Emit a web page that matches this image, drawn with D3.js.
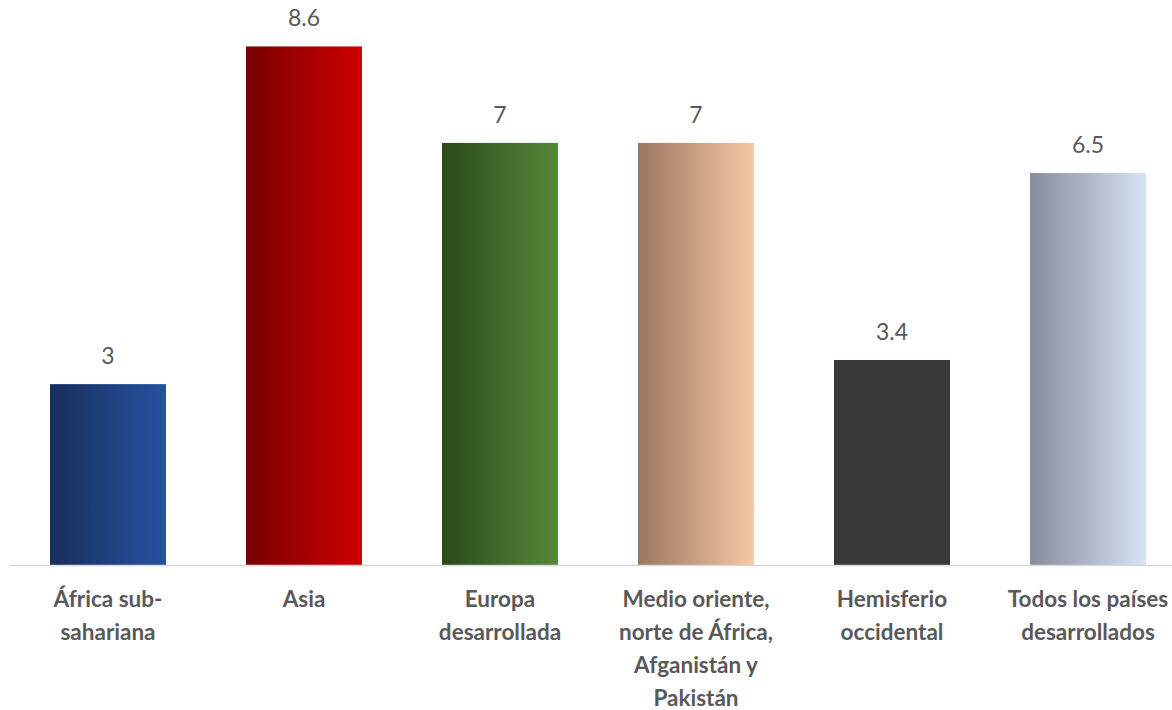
<!DOCTYPE html>
<html>
<head>
<meta charset="utf-8">
<script src="https://cdn.jsdelivr.net/npm/d3@7"></script>
<style>
  body { margin: 0; background: #fff; }
  svg { display: block; }
  .val { font-family: Lato, "Open Sans", sans-serif; font-size: 23px; fill: #595959; }
  .cat { font-family: Lato, "Open Sans", sans-serif; font-size: 22.5px; font-weight: bold; fill: #595959; }
</style>
</head>
<body>
<svg id="chart" width="1172" height="710"></svg>
<script>
// data
const categories = ['africa', 'asia', 'europa', 'medio', 'hemisferio', 'todos'];
const labelLines = [
    ['África sub-', 'sahariana'],
    ['Asia'],
    ['Europa', 'desarrollada'],
    ['Medio oriente,', 'norte de África,', 'Afganistán y', 'Pakistán'],
    ['Hemisferio', 'occidental'],
    ['Todos los países', 'desarrollados']
];
const values = [3, 8.6, 7, 7, 3.4, 6.5];
const valueLabels = ['3', '8.6', '7', '7', '3.4', '6.5'];
// gradient stops left -> right per bar
const fills = [
    ['#172e5b', '#2752a0'],
    ['#780000', '#d00000'],
    ['#2b4a1b', '#54893a'],
    ['#9a7660', '#f9c8a4'],
    ['#3a3938', '#3a3938'],
    ['#858c9c', '#d8e3f6']
];

const svg = d3.select('#chart');
const W = +svg.attr('width');
const baseY = 565;

const x = d3.scaleBand()
    .domain(categories)
    .range([10, 1186])
    .paddingInner(0.408)
    .paddingOuter(0.204);

const y = d3.scaleLinear()
    .domain([0, 9.37])
    .range([baseY, 0]);

const defs = svg.append('defs');
categories.forEach((c, i) => {
    const g = defs.append('linearGradient')
        .attr('id', 'grad-' + c)
        .attr('x1', '0%').attr('x2', '100%')
        .attr('y1', '0%').attr('y2', '0%');
    g.append('stop').attr('offset', '0%').attr('stop-color', fills[i][0]);
    g.append('stop').attr('offset', '100%').attr('stop-color', fills[i][1]);
});

// bars
svg.selectAll('rect.bar')
    .data(categories)
    .join('rect')
    .attr('class', 'bar')
    .attr('x', d => x(d))
    .attr('width', x.bandwidth())
    .attr('y', (d, i) => y(values[i]))
    .attr('height', (d, i) => y(0) - y(values[i]))
    .attr('fill', d => 'url(#grad-' + d + ')');

// axis line
svg.append('line')
    .attr('x1', 10).attr('x2', W)
    .attr('y1', y(0) + 0.5).attr('y2', y(0) + 0.5)
    .attr('stroke', '#d9d9d9')
    .attr('stroke-width', 1.5);

// value labels
svg.selectAll('text.val')
    .data(categories)
    .join('text')
    .attr('class', 'val')
    .attr('x', d => x(d) + x.bandwidth() / 2)
    .attr('y', (d, i) => y(values[i]) - 20)
    .attr('text-anchor', 'middle')
    .text((d, i) => valueLabels[i]);

// category labels
const cat = svg.selectAll('text.cat')
    .data(categories)
    .join('text')
    .attr('class', 'cat')
    .attr('text-anchor', 'middle')
    .attr('x', d => x(d) + x.bandwidth() / 2)
    .attr('y', y(0) + 42);

cat.each(function(d, i) {
    const t = d3.select(this);
    labelLines[i].forEach((line, k) => {
        t.append('tspan')
            .attr('x', x(d) + x.bandwidth() / 2)
            .attr('dy', k === 0 ? 0 : 33)
            .text(line);
    });
});
</script>
</body>
</html>
